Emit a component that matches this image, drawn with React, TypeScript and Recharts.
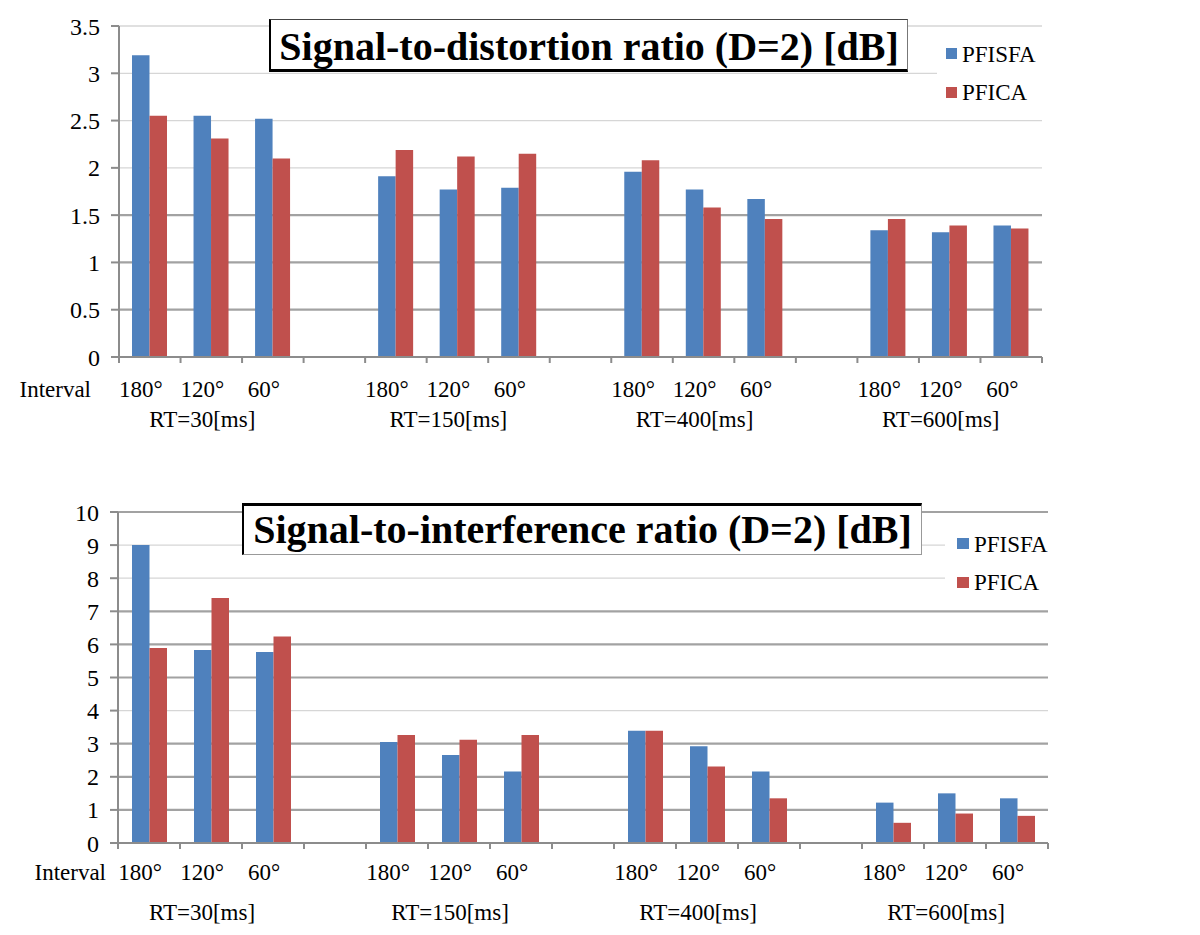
import React from 'react';
import { BarChart, Bar, XAxis, YAxis, CartesianGrid, Legend } from 'recharts';

// categories
const groups = ['RT=30[ms]', 'RT=150[ms]', 'RT=400[ms]', 'RT=600[ms]'];
const intervals = ['180°', '120°', '60°'];

// Signal-to-distortion ratio (D=2) [dB]
const sdrPFISFA = [3.19, 2.55, 2.52, 1.91, 1.77, 1.79, 1.96, 1.77, 1.67, 1.34, 1.32, 1.39];
const sdrPFICA = [2.55, 2.31, 2.1, 2.19, 2.12, 2.15, 2.08, 1.58, 1.46, 1.46, 1.39, 1.36];

// Signal-to-interference ratio (D=2) [dB]
const sirPFISFA = [9.0, 5.83, 5.77, 3.05, 2.66, 2.16, 3.39, 2.92, 2.16, 1.22, 1.5, 1.35];
const sirPFICA = [5.89, 7.4, 6.24, 3.26, 3.12, 3.26, 3.39, 2.31, 1.35, 0.61, 0.89, 0.82];

const sdrTicks = [0, 0.5, 1, 1.5, 2, 2.5, 3, 3.5];
const sirTicks = [0, 1, 2, 3, 4, 5, 6, 7, 8, 9, 10];

const BLUE = '#4F81BD';
const RED = '#C0504D';
const AXIS = '#8c8c8c';
const FONT = '"Liberation Serif", "Times New Roman", serif';
const LABEL_SIZE = 23;

const CHART_W = 1100;
const CHART_H = 450;
const PLOT_TOP = 26;
const PLOT_BOTTOM = 357;

// one row per slot, with an empty slot between RT groups
const buildRows = (a: number[], b: number[]) => {
  const rows: any[] = [];
  groups.forEach((g, gi) => {
    intervals.forEach((iv, ii) => {
      const k = gi * 3 + ii;
      rows.push({ key: `${g}-${iv}`, interval: iv, group: ii === 1 ? g : '', PFISFA: a[k], PFICA: b[k] });
    });
    if (gi < groups.length - 1) {
      rows.push({ key: `gap-${gi}`, interval: '', group: '', PFISFA: null, PFICA: null });
    }
  });
  return rows;
};

const gridLine = (yMax: number, dark: number[]) => (props: any) => {
  const { x1, x2, y1, index } = props;
  const v = Math.round(((PLOT_BOTTOM - y1) / (PLOT_BOTTOM - PLOT_TOP)) * yMax * 100) / 100;
  if (v <= 0.01) return <g key={`g-${index}`} />;
  const isDark = dark.some(d => Math.abs(d - v) < 0.05);
  return (
    <line
      key={`g-${index}`}
      x1={x1}
      x2={x2}
      y1={y1}
      y2={y1}
      stroke={isDark ? '#a2a2a2' : '#d6d6d6'}
      strokeWidth={isDark ? 2.2 : 1.3}
    />
  );
};

interface PanelProps {
  top: number;
  rows: any[];
  yMax: number;
  ticks: number[];
  darkLines: number[];
  plotLeft: number;
  plotRight: number;
  title: string;
  titleBox: React.CSSProperties;
  legendPos: { left: number; top: number; w: number; h: number; sqX: number; sq: number };
  labelDy: number;
  groupDy: number;
  intervalX: number;
}

const Panel: React.FC<PanelProps> = ({
  top, rows, yMax, ticks, darkLines, plotLeft, plotRight, title, titleBox, legendPos, labelDy, groupDy, intervalX,
}) => {
  const slot = (plotRight - plotLeft) / rows.length;

  const renderTick = (p: any) => {
    const { x, y, index } = p;
    const row = rows[index];
    const edge = x - slot / 2;
    return (
      <g key={`t-${index}`}>
        <line x1={edge} x2={edge} y1={y} y2={y + 6} stroke={AXIS} strokeWidth={2} />
        {index === rows.length - 1 && (
          <line x1={x + slot / 2} x2={x + slot / 2} y1={y} y2={y + 6} stroke={AXIS} strokeWidth={2} />
        )}
        {row && row.interval && (
          <text x={x - 9} y={y + labelDy} textAnchor="middle" fontFamily={FONT} fontSize={LABEL_SIZE} fill="#000">
            {row.interval}
          </text>
        )}
        {row && row.group && (
          <text x={x - 9} y={y + groupDy} textAnchor="middle" fontFamily={FONT} fontSize={LABEL_SIZE} fill="#000">
            {row.group}
          </text>
        )}
        {index === 0 && (
          <text x={intervalX} y={y + labelDy} textAnchor="end" fontFamily={FONT} fontSize={LABEL_SIZE} fill="#000">
            Interval
          </text>
        )}
      </g>
    );
  };

  const legendContent = () => (
    <svg width={legendPos.w} height={legendPos.h} style={{ background: '#fff', display: 'block' }}>
      <rect x={legendPos.sqX} y={16} width={legendPos.sq} height={11} fill={BLUE} />
      <text x={legendPos.sqX + legendPos.sq + 5} y={30} fontFamily={FONT} fontSize={LABEL_SIZE} fill="#000">PFISFA</text>
      <rect x={legendPos.sqX} y={55} width={legendPos.sq} height={11} fill={RED} />
      <text x={legendPos.sqX + legendPos.sq + 5} y={68} fontFamily={FONT} fontSize={LABEL_SIZE} fill="#000">PFICA</text>
    </svg>
  );

  return (
    <div style={{ position: 'absolute', left: 0, top, width: CHART_W, height: CHART_H }}>
      <BarChart
        width={CHART_W}
        height={CHART_H}
        data={rows}
        barGap={0}
        margin={{ top: PLOT_TOP, right: CHART_W - plotRight, bottom: CHART_H - PLOT_BOTTOM - 80, left: plotLeft - 80 }}
      >
        <CartesianGrid vertical={false} horizontal={gridLine(yMax, darkLines)} />
        <XAxis
          dataKey="key"
          type="category"
          interval={0}
          height={80}
          tickLine={false}
          tickSize={0}
          tickMargin={0}
          axisLine={{ stroke: AXIS, strokeWidth: 2 }}
          tick={renderTick}
        />
        <YAxis
          type="number"
          domain={[0, yMax]}
          ticks={ticks}
          interval={0}
          width={80}
          tickSize={8}
          tickMargin={11}
          tickLine={{ stroke: AXIS, strokeWidth: 2 }}
          axisLine={{ stroke: AXIS, strokeWidth: 2 }}
          tick={{ fontFamily: FONT, fontSize: 24, fill: '#000' }}
        />
        <Legend
          layout="vertical"
          align="center"
          verticalAlign="middle"
          wrapperStyle={{ left: legendPos.left, top: legendPos.top, width: legendPos.w, height: legendPos.h }}
          content={legendContent}
        />
        <Bar dataKey="PFISFA" fill={BLUE} barSize={17.5} isAnimationActive={false} />
        <Bar dataKey="PFICA" fill={RED} barSize={17.5} isAnimationActive={false} />
      </BarChart>
      <div
        style={{
          position: 'absolute',
          boxSizing: 'border-box',
          background: '#fff',
          fontFamily: FONT,
          fontWeight: 'bold',
          fontSize: 40,
          textAlign: 'center',
          whiteSpace: 'nowrap',
          color: '#000',
          ...titleBox,
        }}
      >
        {title}
      </div>
    </div>
  );
};

const App: React.FC = () => {
  const sdrRows = buildRows(sdrPFISFA, sdrPFICA);
  const sirRows = buildRows(sirPFISFA, sirPFICA);

  return (
    <div style={{ position: 'absolute', left: 0, top: 0, width: 1200, height: 935, background: '#fff' }}>
      <Panel
        top={0}
        rows={sdrRows}
        yMax={3.5}
        ticks={sdrTicks}
        darkLines={[0.5, 1, 1.5]}
        plotLeft={119}
        plotRight={1042}
        title="Signal-to-distortion ratio (D=2) [dB]"
        titleBox={{
          left: 269,
          top: 19,
          width: 639,
          height: 53,
          lineHeight: '53px',
          borderLeft: '2px solid #000',
          borderBottom: '3px solid #000',
          borderTop: '1px solid #444',
          borderRight: '1px solid #777',
        }}
        legendPos={{ left: 937, top: 32, w: 105, h: 82, sqX: 9, sq: 11 }}
        labelDy={40}
        groupDy={70}
        intervalX={91}
      />
      <Panel
        top={486}
        rows={sirRows}
        yMax={10}
        ticks={sirTicks}
        darkLines={[1, 2, 3, 5, 6, 7, 10]}
        plotLeft={118}
        plotRight={1048}
        title="Signal-to-interference ratio (D=2) [dB]"
        titleBox={{
          left: 242,
          top: 17,
          width: 680,
          height: 52,
          lineHeight: '48px',
          borderTop: '3px solid #000',
          borderLeft: '2px solid #000',
          borderBottom: '1px solid #999',
          borderRight: '1px solid #999',
        }}
        legendPos={{ left: 945, top: 36, w: 103, h: 80, sqX: 12, sq: 12 }}
        labelDy={37}
        groupDy={77}
        intervalX={106}
      />
    </div>
  );
};

export default App;
